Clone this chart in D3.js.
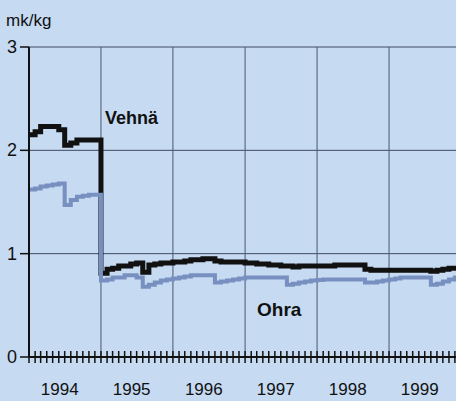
<!DOCTYPE html>
<html>
<head>
<meta charset="utf-8">
<script src="https://cdn.jsdelivr.net/npm/d3@7"></script>
<style>
  html, body { margin: 0; padding: 0; background: #c6daf2; }
  svg { display: block; font-family: "Liberation Sans", Arial, sans-serif; }
</style>
</head>
<body>
<div id="chart"></div>
<script>
// monthly prices, mk/kg, from Jan 1994
const startYear = 1994
const years = [1994, 1995, 1996, 1997, 1998, 1999]
const yTicks = [0, 1, 2, 3]

const vehna = [2.15, 2.18, 2.23, 2.23, 2.23, 2.20, 2.05, 2.07, 2.10, 2.10, 2.10, 2.10,
  0.81, 0.85, 0.86, 0.88, 0.88, 0.90, 0.91, 0.82, 0.89, 0.90, 0.91, 0.91,
  0.92, 0.92, 0.93, 0.94, 0.94, 0.95, 0.95, 0.93, 0.92, 0.92, 0.92, 0.92,
  0.91, 0.91, 0.90, 0.90, 0.89, 0.89, 0.88, 0.88, 0.87, 0.88, 0.88, 0.88,
  0.88, 0.88, 0.88, 0.89, 0.89, 0.89, 0.89, 0.89, 0.85, 0.84, 0.84, 0.84,
  0.84, 0.84, 0.84, 0.84, 0.84, 0.84, 0.84, 0.83, 0.84, 0.85, 0.86, 0.86, 0.86]

const ohra = [1.62, 1.63, 1.65, 1.66, 1.67, 1.68, 1.47, 1.52, 1.55, 1.56, 1.57, 1.57,
  0.74, 0.75, 0.77, 0.77, 0.79, 0.79, 0.77, 0.68, 0.70, 0.72, 0.74, 0.75,
  0.76, 0.77, 0.78, 0.79, 0.79, 0.79, 0.79, 0.72, 0.73, 0.74, 0.75, 0.76,
  0.77, 0.77, 0.77, 0.77, 0.77, 0.77, 0.77, 0.70, 0.71, 0.72, 0.73, 0.74,
  0.745, 0.75, 0.75, 0.75, 0.75, 0.75, 0.75, 0.75, 0.72, 0.72, 0.73, 0.74,
  0.75, 0.76, 0.77, 0.77, 0.77, 0.77, 0.77, 0.70, 0.71, 0.73, 0.75, 0.77, 0.77]

const width = 456, height = 401
const margin = {left: 29, top: 47, bottom: 44}

const monthDate = i => new Date(startYear, i, 1)

const x = d3.scaleTime()
  .domain([new Date(1994, 0, 1), new Date(2000, 0, 1)])
  .range([margin.left, 461])
const y = d3.scaleLinear().domain([0, 3]).range([height - margin.bottom, margin.top])

const svg = d3.select('#chart').append('svg')
  .attr('width', width)
  .attr('height', height)

svg.append('rect').attr('width', width).attr('height', height).attr('fill', '#c6daf2')

// grid
svg.append('g')
  .selectAll('line')
  .data(yTicks.slice(1))
  .join('line')
  .attr('x1', margin.left).attr('x2', width)
  .attr('y1', d => y(d)).attr('y2', d => y(d))
  .attr('stroke', '#3f4a62').attr('stroke-width', 1)

svg.append('g')
  .selectAll('line')
  .data(years.slice(1).map(yr => new Date(yr, 0, 1)))
  .join('line')
  .attr('x1', d => x(d)).attr('x2', d => x(d))
  .attr('y1', y(3)).attr('y2', y(0))
  .attr('stroke', '#4a5670').attr('stroke-width', 1)

const line = d3.line()
  .x((d, i) => x(monthDate(i)))
  .y(d => y(d))
  .curve(d3.curveStepAfter)

svg.append('path')
  .datum(vehna)
  .attr('d', line)
  .attr('fill', 'none')
  .attr('stroke', '#111')
  .attr('stroke-width', 5)

svg.append('path')
  .datum(ohra)
  .attr('d', line)
  .attr('fill', 'none')
  .attr('stroke', '#7890bf')
  .attr('stroke-width', 4)

// y axis
svg.append('line')
  .attr('x1', margin.left).attr('x2', margin.left)
  .attr('y1', y(3)).attr('y2', y(0))
  .attr('stroke', '#111').attr('stroke-width', 2)

const yAx = svg.append('g')
yAx.selectAll('line')
  .data(yTicks)
  .join('line')
  .attr('x1', margin.left - 9).attr('x2', margin.left)
  .attr('y1', d => y(d)).attr('y2', d => y(d))
  .attr('stroke', '#111').attr('stroke-width', 1.5)
yAx.selectAll('text')
  .data(yTicks)
  .join('text')
  .attr('x', 12).attr('y', d => y(d) + 6)
  .attr('text-anchor', 'middle')
  .attr('font-size', 18)
  .attr('fill', '#111')
  .text(d => d)

// x axis with monthly ticks
svg.append('line')
  .attr('x1', margin.left).attr('x2', width)
  .attr('y1', y(0)).attr('y2', y(0))
  .attr('stroke', '#111').attr('stroke-width', 2)

svg.append('g')
  .selectAll('line')
  .data(d3.timeMonth.range(new Date(1994, 0, 1), new Date(2000, 0, 1)))
  .join('line')
  .attr('x1', d => x(d)).attr('x2', d => x(d))
  .attr('y1', y(0) - 6).attr('y2', y(0) + 6)
  .attr('stroke', '#111').attr('stroke-width', 1.5)

svg.append('g')
  .selectAll('text')
  .data(years)
  .join('text')
  .attr('x', d => x(new Date(d, 6, 1)) - 5)
  .attr('y', 395)
  .attr('text-anchor', 'middle')
  .attr('font-size', 17)
  .attr('fill', '#111')
  .text(d => d)

svg.append('text')
  .attr('x', 6).attr('y', 26)
  .attr('font-size', 17)
  .attr('fill', '#111')
  .text('mk/kg')

svg.append('text')
  .attr('x', 105).attr('y', 124)
  .attr('font-size', 18).attr('font-weight', 'bold')
  .attr('fill', '#111')
  .text('Vehnä')

svg.append('text')
  .attr('x', 257).attr('y', 316)
  .attr('font-size', 19).attr('font-weight', 'bold')
  .attr('fill', '#111')
  .text('Ohra')
</script>
</body>
</html>
